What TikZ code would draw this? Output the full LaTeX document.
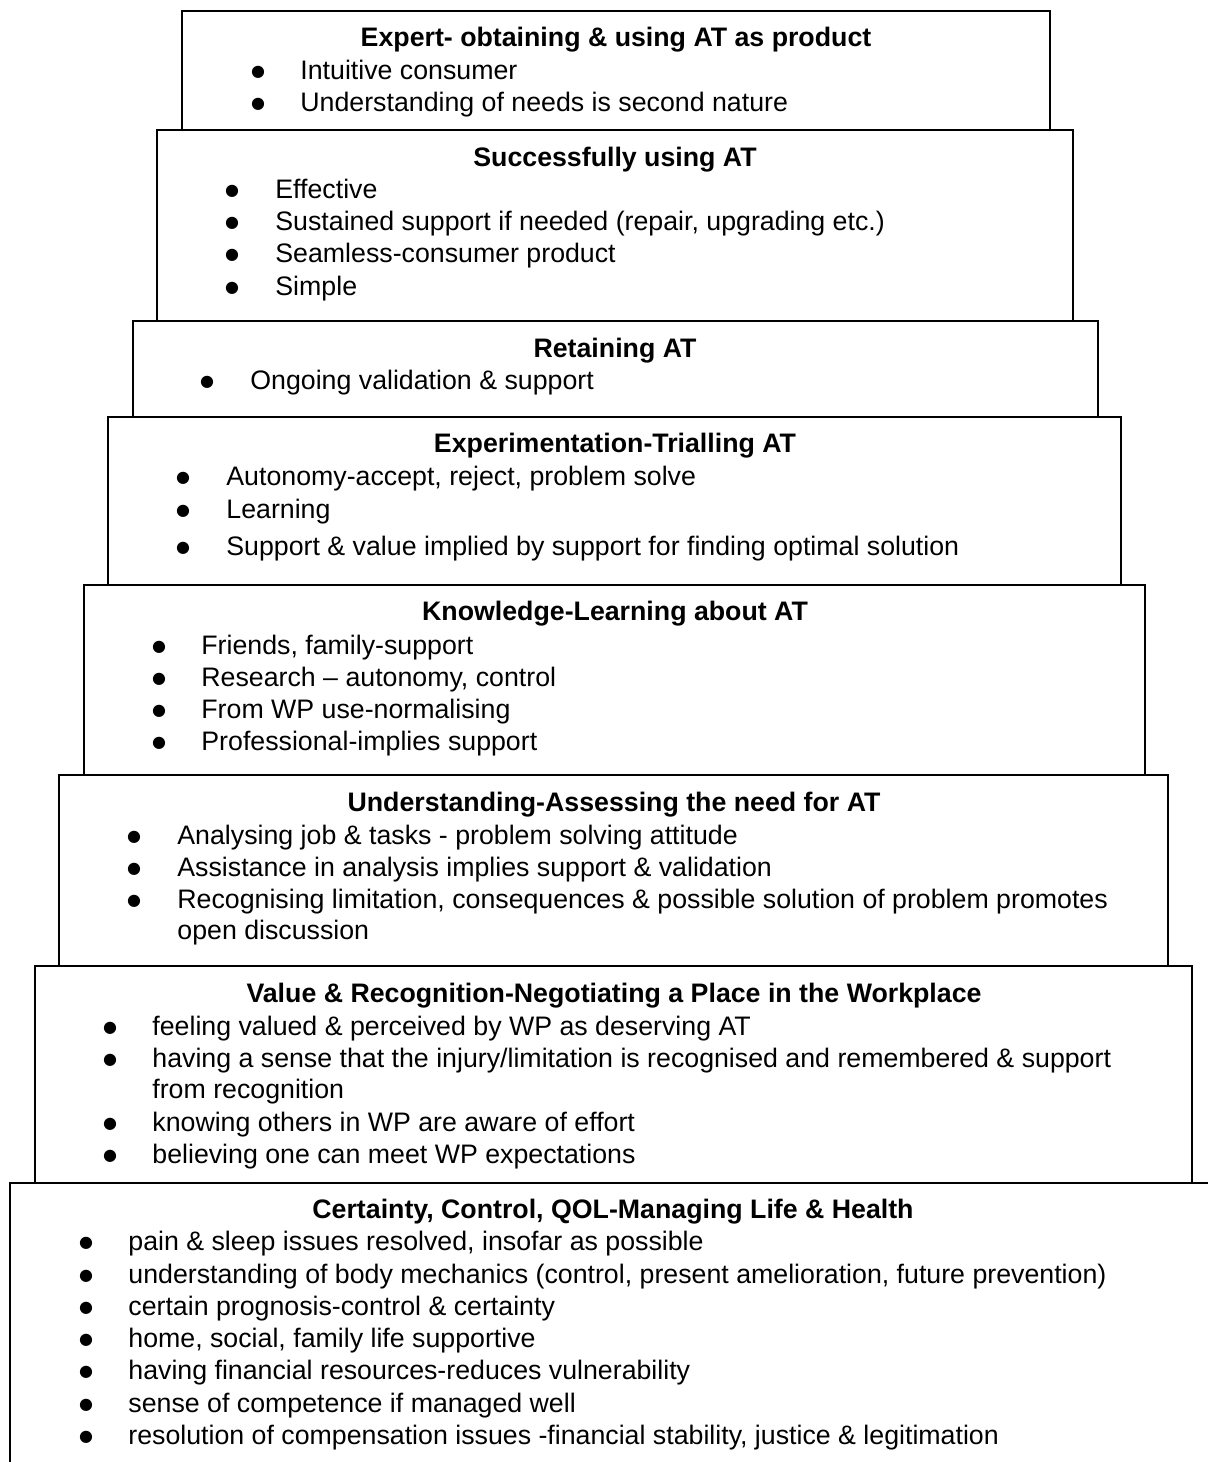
\documentclass[tikz,border=0pt]{standalone}
\usepackage{fontspec}
\setmainfont{Liberation Sans}
\newfontfamily\dotfont{DejaVu Sans}
\begin{document}
\begin{tikzpicture}[x=0.5pt,y=-0.5pt,
  boxst/.style={draw=black,line width=1.1pt},
  txt/.style={inner sep=0pt,anchor=base west,font=\fontsize{13.37}{16}\selectfont},
  head/.style={inner sep=0pt,anchor=base,font=\fontsize{13.37}{16}\selectfont\bfseries},
  dotst/.style={inner sep=0pt,anchor=center,font=\dotfont\fontsize{8}{9}\selectfont}]
\newcommand\bl[5]{%
  \node[dotst] (#1d) at (#2,#4+2) {●};
  \node[txt] (#1) at (#3,#4+9.6) {#5};}
\newcommand\cl[4]{%
  \node[txt] (#1) at (#2,#3+9.6) {#4};}
\useasboundingbox (0,0) rectangle (1208,1462);
\fill[white] (0,0) rectangle (1208,1462);
% boxes
\draw[boxst] (182,11) rectangle (1050,130);
\draw[boxst] (157,130) rectangle (1073,321);
\draw[boxst] (133,321) rectangle (1098,417);
\draw[boxst] (108,417) rectangle (1121,585);
\draw[boxst] (84,585) rectangle (1145,775);
\draw[boxst] (59,775) rectangle (1168,966);
\draw[boxst] (35,966) rectangle (1192,1183);
\draw[boxst] (10,1470) -- (10,1183) -- (1215,1183);
% box 1
\node[head] (h1) at (616,37+9.6) {Expert- obtaining \& using AT as product};
\bl{a1}{258}{300}{70}{Intuitive consumer}
\bl{a2}{258}{300}{102}{Understanding of needs is second nature}
% box 2
\node[head] (h2) at (615,157+9.6) {Successfully using AT};
\bl{b1}{232}{275}{189}{Effective}
\bl{b2}{232}{275}{221}{Sustained support if needed (repair, upgrading etc.)}
\bl{b3}{232}{275}{253}{Seamless-consumer product}
\bl{b4}{232}{275}{286}{Simple}
% box 3
\node[head] (h3) at (615,348+9.6) {Retaining AT};
\bl{c1}{207}{250}{380}{Ongoing validation \& support}
% box 4
\node[head] (h4) at (615,443+9.6) {Experimentation-Trialling AT};
\bl{d1}{183}{226}{476}{Autonomy-accept, reject, problem solve}
\bl{d2}{183}{226}{509}{Learning}
\bl{d3}{183}{226}{546}{Support \& value implied by support for finding optimal solution}
% box 5
\node[head] (h5) at (615,611+9.6) {Knowledge-Learning about AT};
\bl{e1}{159}{201}{645}{Friends, family-support}
\bl{e2}{159}{201}{677}{Research – autonomy, control}
\bl{e3}{159}{201}{709}{From WP use-normalising}
\bl{e4}{159}{201}{741}{Professional-implies support}
% box 6
\node[head] (h6) at (614,802+9.6) {Understanding-Assessing the need for AT};
\bl{f1}{134}{177}{835}{Analysing job \& tasks - problem solving attitude}
\bl{f2}{134}{177}{867}{Assistance in analysis implies support \& validation}
\bl{f3}{134}{177}{899}{Recognising limitation, consequences \& possible solution of problem promotes}
\cl{f3b}{177}{930}{open discussion}
% box 7
\node[head] (h7) at (614,993+9.6) {Value \& Recognition-Negotiating a Place in the Workplace};
\bl{g1}{110}{152}{1026}{feeling valued \& perceived by WP as deserving AT}
\bl{g2}{110}{152}{1058}{having a sense that the injury/limitation is recognised and remembered \& support}
\cl{g2b}{152}{1089}{from recognition}
\bl{g3}{110}{152}{1122}{knowing others in WP are aware of effort}
\bl{g4}{110}{152}{1154}{believing one can meet WP expectations}
% box 8
\node[head] (h8) at (613,1209+9.6) {Certainty, Control, QOL-Managing Life \& Health};
\bl{k1}{86}{128}{1241}{pain \& sleep issues resolved, insofar as possible}
\bl{k2}{86}{128}{1274}{understanding of body mechanics (control, present amelioration, future prevention)}
\bl{k3}{86}{128}{1306}{certain prognosis-control \& certainty}
\bl{k4}{86}{128}{1338}{home, social, family life supportive}
\bl{k5}{86}{128}{1370}{having financial resources-reduces vulnerability}
\bl{k6}{86}{128}{1403}{sense of competence if managed well}
\bl{k7}{86}{128}{1435}{resolution of compensation issues -financial stability, justice \& legitimation}
\end{tikzpicture}
\end{document}
